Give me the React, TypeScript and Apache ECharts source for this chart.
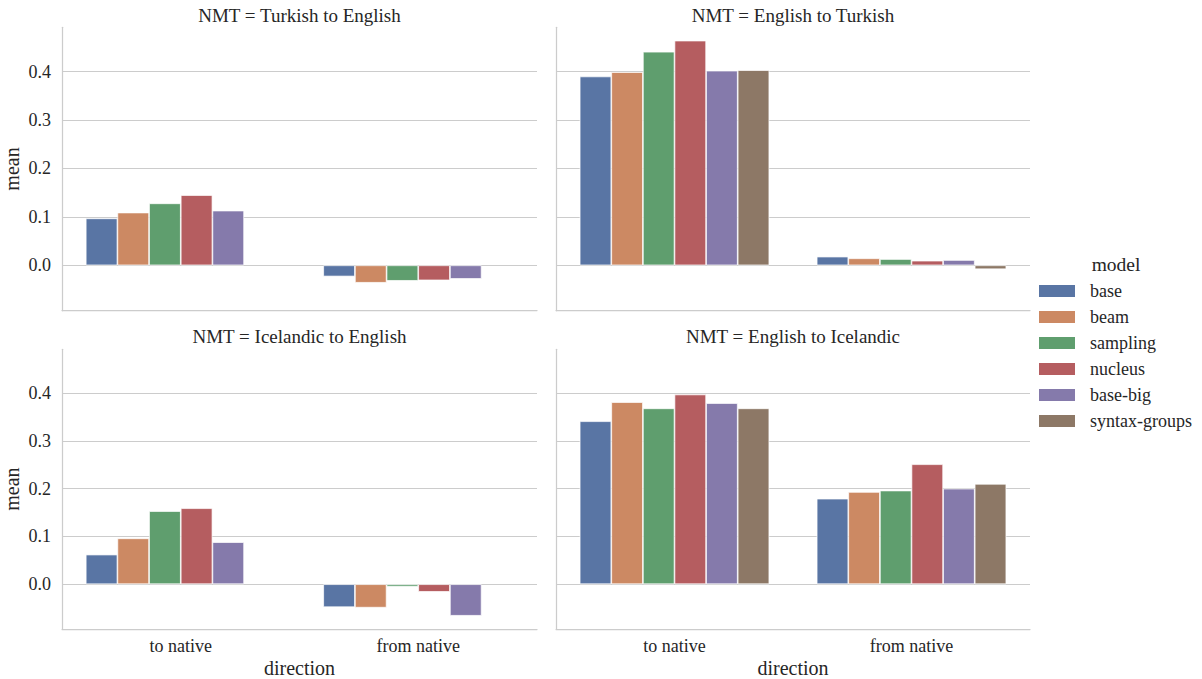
import React, { useEffect, useRef } from "react";
import * as echarts from "echarts";

// ---- data ----
const models = ["base", "beam", "sampling", "nucleus", "base-big", "syntax-groups"];
const directions = ["to native", "from native"];
const panelTitles = [
  "NMT = Turkish to English",
  "NMT = English to Turkish",
  "NMT = Icelandic to English",
  "NMT = English to Icelandic",
];
const modelColors = ["#5975a4", "#cc8963", "#5f9e6e", "#b55d60", "#857aab", "#8d7866"];

// values per model (same order as models), per direction
const trEnToNative = [0.097, 0.109, 0.128, 0.145, 0.113, null];
const trEnFromNative = [-0.023, -0.036, -0.032, -0.031, -0.028, null];
const enTrToNative = [0.39, 0.399, 0.441, 0.464, 0.402, 0.403];
const enTrFromNative = [0.018, 0.0145, 0.013, 0.0096, 0.011, -0.008];
const isEnToNative = [0.062, 0.096, 0.153, 0.159, 0.088, null];
const isEnFromNative = [-0.048, -0.049, -0.005, -0.016, -0.066, null];
const enIsToNative = [0.341, 0.381, 0.368, 0.397, 0.379, 0.368];
const enIsFromNative = [0.179, 0.193, 0.196, 0.251, 0.2, 0.21];

const panelToNative = [trEnToNative, enTrToNative, isEnToNative, enIsToNative];
const panelFromNative = [trEnFromNative, enTrFromNative, isEnFromNative, enIsFromNative];

const Y_MIN = -0.0937;
const Y_MAX = 0.4915;
const Y_STEP = 0.1;

const FONT = '"Liberation Serif", "DejaVu Serif", "Times New Roman", serif';
const TEXT = "#262626";
const GRIDC = "#cccccc";

// layout
const grids = [
  { left: 62, top: 27.3, width: 475, height: 283.4 },
  { left: 556, top: 27.3, width: 474, height: 283.4 },
  { left: 62, top: 349.3, width: 475, height: 283 },
  { left: 556, top: 349.3, width: 474, height: 283 },
];

function buildOption() {
  const isBottom = (i: number) => i >= 2;
  const isLeft = (i: number) => i % 2 === 0;

  const xAxis = grids.map((_, i) => ({
    type: "category",
    gridIndex: i,
    data: directions,
    boundaryGap: true,
    axisLine: { show: true, onZero: false, lineStyle: { color: GRIDC, width: 1.25 } },
    axisTick: { show: false },
    splitLine: { show: false },
    axisLabel: {
      show: isBottom(i),
      fontFamily: FONT,
      fontSize: 18,
      color: TEXT,
      margin: 8,
    },
    name: isBottom(i) ? "direction" : "",
    nameLocation: "middle",
    nameGap: 29,
    nameTextStyle: { fontFamily: FONT, fontSize: 20, color: TEXT },
  }));

  const yAxis = grids.map((_, i) => ({
    type: "value",
    gridIndex: i,
    min: Y_MIN,
    max: Y_MAX,
    minInterval: Y_STEP,
    maxInterval: Y_STEP,
    splitNumber: 5,
    axisLine: { show: true, lineStyle: { color: GRIDC, width: 1.25 } },
    axisTick: { show: false },
    splitLine: {
      show: true,
      showMinLine: false,
      showMaxLine: false,
      lineStyle: { color: GRIDC, width: 1 },
    },
    axisLabel: {
      show: isLeft(i),
      showMinLabel: false,
      showMaxLabel: false,
      fontFamily: FONT,
      fontSize: 18,
      color: TEXT,
      margin: 11,
      formatter: (v: number) => {
        const r = Math.round(v / Y_STEP) * Y_STEP;
        if (Math.abs(v - r) > 1e-6) return "";
        return Math.abs(r).toFixed(1) === "0.0" ? "0.0" : r.toFixed(1);
      },
    },
    name: isLeft(i) ? "mean" : "",
    nameLocation: "middle",
    nameGap: 40,
    nameTextStyle: { fontFamily: FONT, fontSize: 20, color: TEXT },
  }));

  const series: any[] = [];
  grids.forEach((_, p) => {
    models.forEach((m, k) => {
      const a = panelToNative[p][k];
      const b = panelFromNative[p][k];
      series.push({
        type: "bar",
        name: m,
        xAxisIndex: p,
        yAxisIndex: p,
        data: [a === null ? "-" : a, b === null ? "-" : b],
        barGap: "0%",
        barCategoryGap: "20%",
        itemStyle: { color: modelColors[k], borderColor: "#ffffff", borderWidth: 0.7 },
        emphasis: { disabled: true },
        silent: true,
      });
    });
  });

  const titles: any[] = panelTitles.map((t, i) => ({
    text: t,
    left: grids[i].left + grids[i].width / 2,
    top: i < 2 ? 5.5 : 327,
    textAlign: "center",
    padding: 0,
    textStyle: { fontFamily: FONT, fontSize: 19, fontWeight: "normal", color: TEXT },
  }));
  titles.push({
    text: "model",
    left: 1116,
    top: 254.5,
    textAlign: "center",
    padding: 0,
    textStyle: { fontFamily: FONT, fontSize: 19.5, fontWeight: "normal", color: TEXT },
  });

  return {
    animation: false,
    backgroundColor: "#ffffff",
    title: titles,
    grid: grids.map((g) => ({ ...g, containLabel: false })),
    xAxis,
    yAxis,
    series,
    legend: {
      data: models,
      orient: "vertical",
      left: 1039,
      top: 282,
      itemWidth: 36,
      itemHeight: 12,
      itemGap: 8,
      icon: "rect",
      padding: 0,
      selectedMode: false,
      itemStyle: { borderWidth: 0 },
      textStyle: {
        fontFamily: FONT,
        fontSize: 18,
        color: TEXT,
        padding: [0, 0, 0, 10],
      },
    },
  };
}

export default function App() {
  const ref = useRef<HTMLDivElement>(null);
  useEffect(() => {
    if (!ref.current) return;
    const chart = echarts.init(ref.current, undefined, { renderer: "svg" });
    chart.setOption(buildOption() as any);
    return () => chart.dispose();
  }, []);
  return (
    <div
      ref={ref}
      style={{ position: "fixed", left: 0, top: 0, width: 1202, height: 679, background: "#fff" }}
    />
  );
}
